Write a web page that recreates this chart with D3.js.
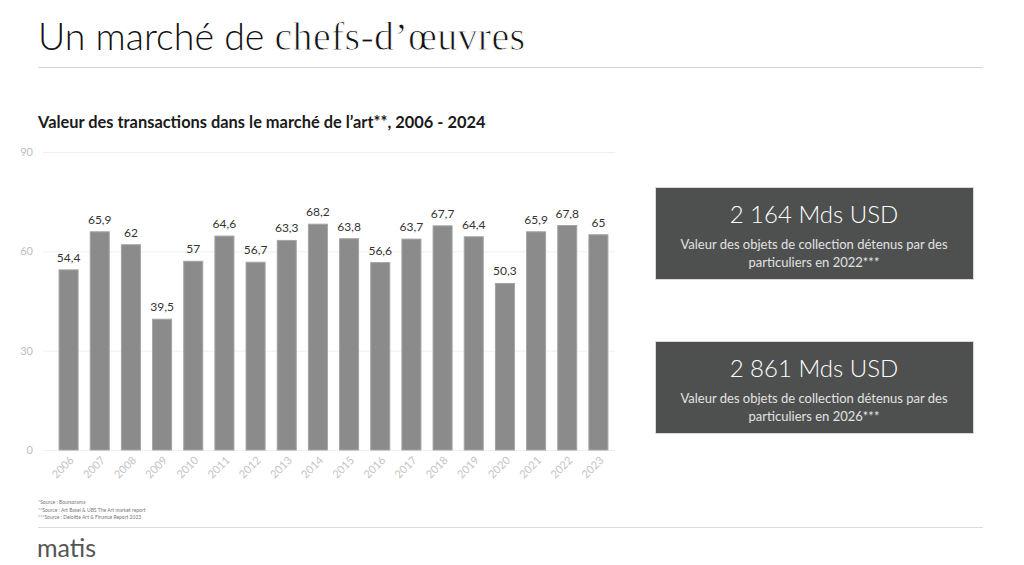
<!DOCTYPE html>
<html><head><meta charset="utf-8">
<script src="https://cdn.jsdelivr.net/npm/d3@7"></script>
<style>
html,body{margin:0;padding:0;background:#fff;}
svg{display:block;}
</style></head>
<body>
<svg id="c" width="1024" height="565"></svg>
<script>
const years = ["2006","2007","2008","2009","2010","2011","2012","2013","2014","2015","2016","2017","2018","2019","2020","2021","2022","2023"];
const values = [54.4,65.9,62,39.5,57,64.6,56.7,63.3,68.2,63.8,56.6,63.7,67.7,64.4,50.3,65.9,67.8,65];
const yTicks = [0,30,60,90];
const boxTitles = ["2 164 Mds USD","2 861 Mds USD"];
const boxLines = [["Valeur des objets de collection détenus par des","particuliers en 2022***"],["Valeur des objets de collection détenus par des","particuliers en 2026***"]];
const footnotes = ["*Source : Boursorama","**Source : Art Basel & UBS The Art market report","***Source : Deloitte Art & Finance Report 2023"];

const svg = d3.select("#c");
const sans = "Lato, 'Open Sans', sans-serif";
svg.append("rect").attr("width",1024).attr("height",565).attr("fill","#fff");

// Title
const t = svg.append("text").attr("x",38).attr("y",50).attr("fill","#111");
t.append("tspan").attr("font-family",sans).attr("font-weight",300).attr("font-size",37.5).text("Un marché de ");
t.append("tspan").attr("font-family","'Liberation Serif', serif").attr("font-weight",400).attr("font-size",40)
  .attr("stroke","#fff").attr("stroke-width",0.9).attr("letter-spacing",0.3).text("chefs-d’œuvres");
svg.append("line").attr("x1",38).attr("x2",983).attr("y1",67.5).attr("y2",67.5).attr("stroke","#d6d6d6").attr("stroke-width",1.2);

// Subtitle
svg.append("text").attr("x",38).attr("y",128).attr("font-family",sans).attr("font-weight",700)
  .attr("font-size",16.4).attr("fill","#1a1a1a").text("Valeur des transactions dans le marché de l’art**, 2006 - 2024");

// Scales
const x = d3.scaleBand().domain(years).range([53,614]).paddingInner(0.39).paddingOuter(0.195);
const y = d3.scaleLinear().domain([0,90]).range([450,152]);

// Gridlines
svg.append("g").selectAll("line").data(yTicks).join("line")
  .attr("x1",43).attr("x2",615).attr("y1",d=>y(d)+0.5).attr("y2",d=>y(d)+0.5)
  .attr("stroke","#f0f0f0").attr("stroke-width",1);

// Y axis
const yAxis = d3.axisLeft(y).tickValues(yTicks).tickSize(0).tickPadding(0);
const ya = svg.append("g").attr("transform","translate(33,0)").call(yAxis);
ya.select(".domain").remove();
ya.selectAll("text").attr("font-family",sans).attr("font-size",11).attr("fill","#bdbdbd");

// Bars
svg.selectAll("rect.bar").data(values).join("rect").attr("class","bar")
  .attr("x",(d,i)=>x(years[i])).attr("width",x.bandwidth())
  .attr("y",d=>y(d)).attr("height",d=>y(0)-y(d))
  .attr("fill","#8a8b8a").attr("stroke","#a3a4a3").attr("stroke-width",1);

// Value labels
svg.selectAll("text.val").data(values).join("text").attr("class","val")
  .attr("x",(d,i)=>x(years[i])+x.bandwidth()/2).attr("y",d=>y(d)-8)
  .attr("text-anchor","middle").attr("font-family",sans).attr("font-size",12).attr("fill","#333")
  .text(d=>String(d).replace(".",","));

// X axis
const xAxis = d3.axisBottom(x).tickSize(0).tickPadding(0);
const xa = svg.append("g").attr("transform","translate(0,450)").call(xAxis);
xa.select(".domain").remove();
xa.selectAll("text").attr("font-family",sans).attr("font-size",11).attr("fill","#c4c4c4")
  .attr("text-anchor","end").attr("dy",0).attr("transform","translate(6,11) rotate(-45)");

// Boxes
const boxY = [187,341];
boxY.forEach((by,i)=>{
  const bg = svg.append("g");
  bg.append("rect").attr("x",655.5).attr("y",by+0.5).attr("width",318).attr("height",92)
    .attr("fill","#4e5050").attr("stroke","#d9d9d9").attr("stroke-width",1);
  bg.append("text").attr("x",814).attr("y",by+36).attr("text-anchor","middle")
    .attr("font-family",sans).attr("font-weight",300).attr("font-size",24).attr("fill","#fff").text(boxTitles[i]);
  boxLines[i].forEach((l,j)=>{
    bg.append("text").attr("x",814).attr("y",by+62+j*18).attr("text-anchor","middle")
      .attr("font-family",sans).attr("font-size",13).attr("fill","#e2e2e2").text(l);
  });
});

// Footnotes
svg.selectAll("text.fn").data(footnotes).join("text").attr("class","fn")
  .attr("x",38).attr("y",(d,i)=>504+i*7.5).attr("font-family",sans).attr("font-size",5)
  .attr("fill","#777").text(d=>d);
svg.append("line").attr("x1",38).attr("x2",983).attr("y1",527.5).attr("y2",527.5).attr("stroke","#dcdcdc");

svg.append("text").attr("x",37).attr("y",557).attr("font-family",sans).attr("font-size",25)
  .attr("fill","#555").text("matis");
</script>
</body></html>
